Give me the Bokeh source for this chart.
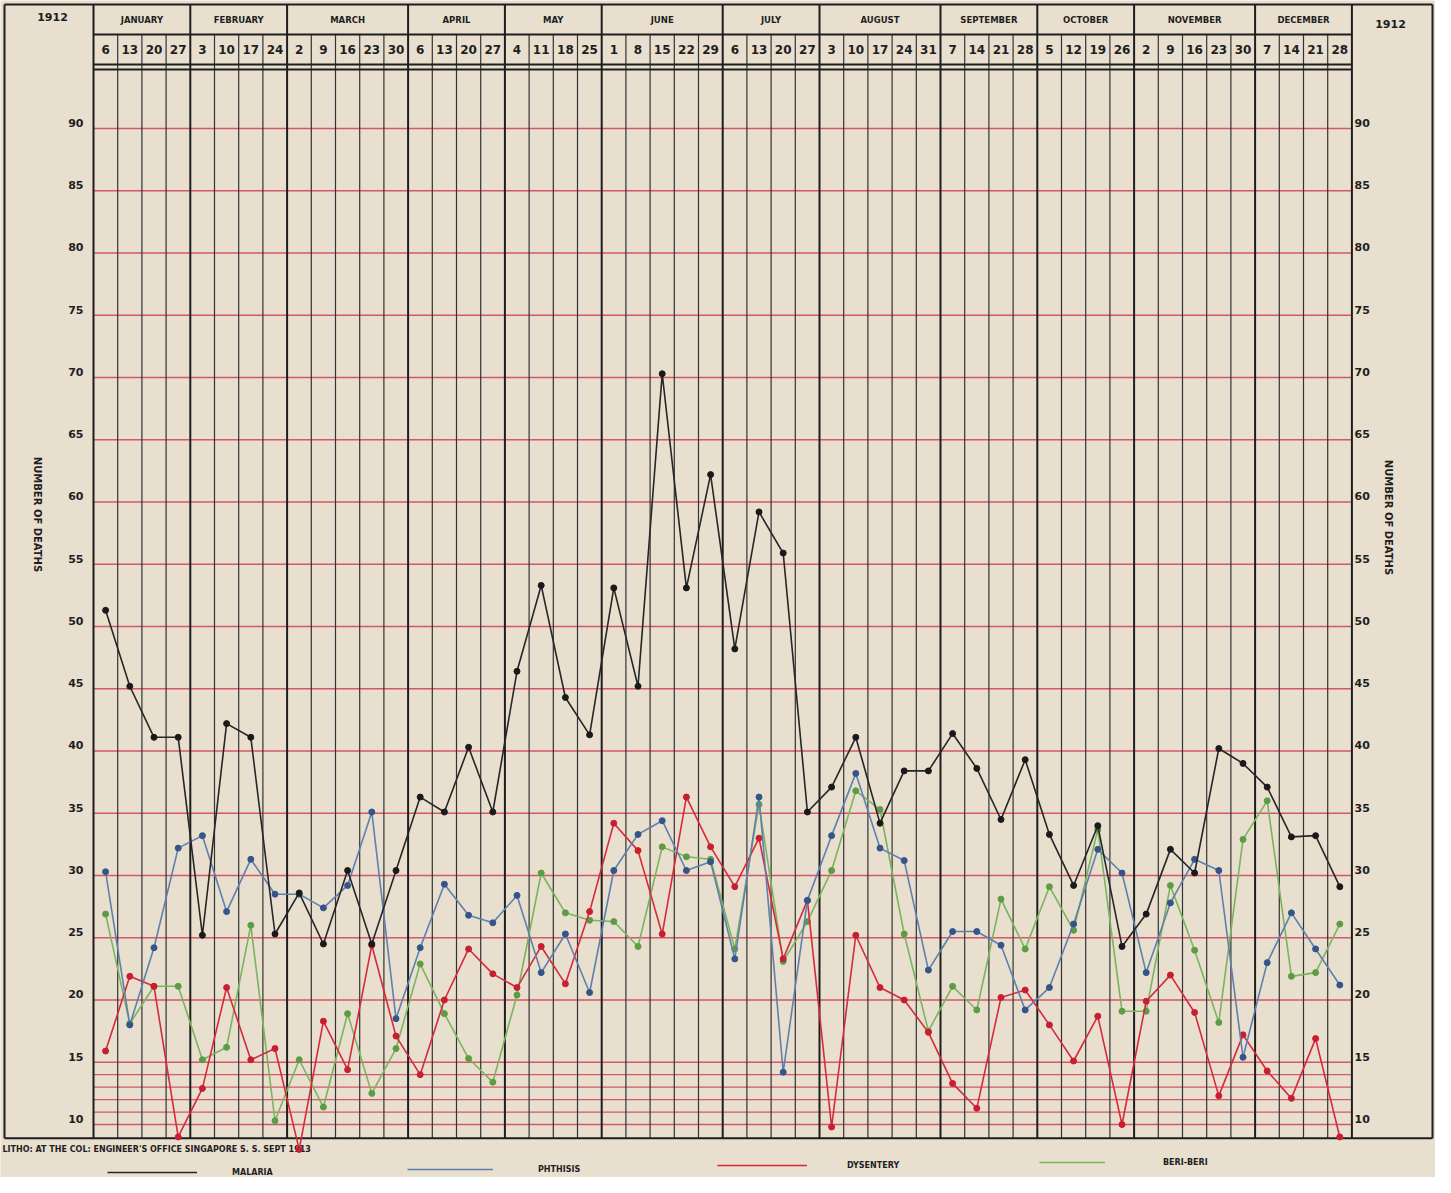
import numpy as np
from bokeh.plotting import figure
from bokeh.models import ColumnDataSource, Range1d, Legend, LegendItem
from bokeh.core.properties import value
from bokeh.embed import file_html
from bokeh.resources import INLINE

# ---------------- data ----------------
YEAR = "1912"
MONTHS = ["JANUARY", "FEBRUARY", "MARCH", "APRIL", "MAY", "JUNE", "JULY",
          "AUGUST", "SEPTEMBER", "OCTOBER", "NOVEMBER", "DECEMBER"]
WEEKS_PER_MONTH = [4, 4, 5, 4, 4, 5, 4, 5, 4, 4, 5, 4]
WEEK_DAYS = [6, 13, 20, 27, 3, 10, 17, 24, 2, 9, 16, 23, 30, 6, 13, 20, 27,
             4, 11, 18, 25, 1, 8, 15, 22, 29, 6, 13, 20, 27, 3, 10, 17, 24, 31,
             7, 14, 21, 28, 5, 12, 19, 26, 2, 9, 16, 23, 30, 7, 14, 21, 28]

MALARIA = [51.3, 45.2, 41.1, 41.1, 25.2, 42.2, 41.1, 25.3, 28.6, 24.5,
           30.4, 24.5, 30.4, 36.3, 35.1, 40.3, 35.1, 46.4, 53.3, 44.3,
           41.3, 53.1, 45.2, 70.3, 53.1, 62.2, 48.2, 59.2, 55.9, 35.1,
           37.1, 41.1, 34.2, 38.4, 38.4, 41.4, 38.6, 34.5, 39.3, 33.3,
           29.2, 34.0, 24.3, 26.9, 32.1, 30.2, 40.2, 39.0, 37.1, 33.1,
           33.2, 29.1]
PHTHISIS = [30.3, 18.0, 24.2, 32.2, 33.2, 27.1, 31.3, 28.5, 28.5, 27.4,
            29.2, 35.1, 18.5, 24.2, 29.3, 26.8, 26.2, 28.4, 22.2, 25.3,
            20.6, 30.4, 33.3, 34.4, 30.4, 31.1, 23.3, 36.3, 14.2, 28.0,
            33.2, 38.2, 32.2, 31.2, 22.4, 25.5, 25.5, 24.4, 19.2, 21.0,
            26.1, 32.1, 30.2, 22.2, 27.8, 31.3, 30.4, 15.4, 23.0, 27.0,
            24.1, 21.2]
DYSENTERY = [15.9, 21.9, 21.1, 9.0, 12.9, 21.0, 15.2, 16.1, 8.0, 18.3,
             14.4, 24.4, 17.1, 14.0, 20.0, 24.1, 22.1, 21.0, 24.3, 21.3,
             27.1, 34.2, 32.0, 25.3, 36.3, 32.3, 29.1, 33.0, 23.3, 28.0,
             9.8, 25.2, 21.0, 20.0, 17.4, 13.3, 11.3, 20.2, 20.8, 18.0,
             15.1, 18.7, 10.0, 19.9, 22.0, 19.0, 12.3, 17.2, 14.3, 12.1,
             16.9, 9.0]
BERI_BERI = [26.9, 18.1, 21.1, 21.1, 15.2, 16.2, 26.0, 10.3, 15.2, 11.4,
             18.9, 12.5, 16.1, 22.9, 18.9, 15.3, 13.4, 20.4, 30.2, 27.0,
             26.4, 26.3, 24.3, 32.3, 31.5, 31.3, 24.1, 35.7, 23.1, 26.3,
             30.4, 36.8, 35.3, 25.3, 17.5, 21.1, 19.2, 28.1, 24.1, 29.1,
             25.6, 33.7, 19.1, 19.1, 29.2, 24.0, 18.2, 32.9, 36.0, 21.9,
             22.2, 26.1]
Y_TICKS = list(range(10, 95, 5))
MINOR_Y_LINES = [11, 12, 13, 14]
AXIS_TITLE = "NUMBER OF DEATHS"
FOOTER = "LITHO: AT THE COL: ENGINEER'S OFFICE SINGAPORE S. S. SEPT 1913"

# ---------------- layout ----------------
W, H = 1435, 1177
PX_LEFT = 101.0       # page x of the first week boundary
PX_WEEK = 24.2        # pixels per week
PY_90 = 136.0         # page y of the 90 line
PX_UNIT = 12.45       # pixels per death


def X(px):
    return (px - PX_LEFT) / PX_WEEK


def Y(py):
    return 90 - (py - PY_90) / PX_UNIT


PAPER = "#e8dfcf"
INK = "#1e1e1e"
GRIDRED = "#d4485c"
FONT_NAME = "DejaVu Sans"
FONT = value(FONT_NAME)

p = figure(width=W, height=H, output_backend="svg", toolbar_location=None,
           x_range=Range1d(X(8), X(8 + W)), y_range=Range1d(Y(8 + H), Y(8)),
           x_axis_location=None, y_axis_location=None, min_border=0,
           background_fill_color=PAPER, border_fill_color=PAPER,
           outline_line_color=None)
p.xgrid.visible = False
p.ygrid.visible = False

n = len(WEEK_DAYS)
grid_bottom = 8.9
grid_top = Y(77)
header_top = Y(12)
month_bottom = Y(42)
day_bottom = Y(72)
box_left = X(12)
box_right = X(1440)

# red horizontal rulings
hl = Y_TICKS + MINOR_Y_LINES
p.segment(x0=[0] * len(hl), x1=[n] * len(hl), y0=hl, y1=hl,
          line_color=GRIDRED, line_width=1.3, line_alpha=0.9)

# week / month vertical rulings
month_edges = [int(v) for v in np.cumsum([0] + WEEKS_PER_MONTH)]
week_edges = [k for k in range(n + 1) if k not in month_edges]
p.segment(x0=week_edges, x1=week_edges, y0=[month_bottom] * len(week_edges),
          y1=[grid_bottom] * len(week_edges), line_color="#333333", line_width=1.2)
p.segment(x0=month_edges, x1=month_edges, y0=[header_top] * len(month_edges),
          y1=[grid_bottom] * len(month_edges), line_color=INK, line_width=2)

# outer box and header rules
p.segment(x0=[box_left, box_left, box_left, box_right, 0, 0, 0],
          x1=[box_right, box_right, box_left, box_right, n, n, n],
          y0=[header_top, grid_bottom, header_top, header_top, month_bottom, day_bottom, grid_top],
          y1=[header_top, grid_bottom, grid_bottom, grid_bottom, month_bottom, day_bottom, grid_top],
          line_color=INK, line_width=2)

# header texts
month_centers = [(month_edges[i] + month_edges[i + 1]) / 2 for i in range(12)]
p.text(x=month_centers, y=[(header_top + month_bottom) / 2] * 12, text=MONTHS,
       text_font=FONT, text_font_style="bold", text_font_size="8.5px",
       text_align="center", text_baseline="middle", text_color=INK)
p.text(x=[i + 0.5 for i in range(n)], y=[(month_bottom + day_bottom) / 2] * n,
       text=[str(d) for d in WEEK_DAYS], text_font=FONT, text_font_style="bold",
       text_font_size="12px", text_align="center", text_baseline="middle",
       text_color=INK)
p.text(x=[X(60), X(1398)], y=[Y(24), Y(31)], text=[YEAR, YEAR], text_font=FONT,
       text_font_style="bold", text_font_size="11px", text_align="center",
       text_baseline="middle", text_color=INK)

# y tick labels (both sides)
p.text(x=[X(91)] * len(Y_TICKS), y=[v + 0.45 for v in Y_TICKS], text=[str(v) for v in Y_TICKS],
       text_font=FONT, text_font_style="bold", text_font_size="11px",
       text_align="right", text_baseline="middle", text_color=INK)
p.text(x=[X(1362)] * len(Y_TICKS), y=[v + 0.45 for v in Y_TICKS], text=[str(v) for v in Y_TICKS],
       text_font=FONT, text_font_style="bold", text_font_size="11px",
       text_align="left", text_baseline="middle", text_color=INK)
p.text(x=[X(45), X(1396)], y=[Y(522), Y(525)], text=[AXIS_TITLE, AXIS_TITLE],
       angle=-np.pi / 2, text_font=FONT, text_font_style="bold", text_font_size="10px",
       text_align="center", text_baseline="middle", text_color=INK)
p.text(x=[X(10)], y=[Y(1157)], text=[FOOTER], text_font=FONT, text_font_style="bold",
       text_font_size="8px", text_align="left", text_baseline="middle", text_color=INK)

# ---------------- series ----------------
src = ColumnDataSource(dict(x=[i + 0.5 for i in range(n)], day=WEEK_DAYS,
                            malaria=MALARIA, phthisis=PHTHISIS,
                            dysentery=DYSENTERY, beri=BERI_BERI))
series = [("beri", "BERI-BERI", "#7ab55e", "#5c9c45"),
          ("dysentery", "DYSENTERY", "#d62a3c", "#c81e32"),
          ("phthisis", "PHTHISIS", "#5e80ad", "#34558a"),
          ("malaria", "MALARIA", "#262626", "#1a1a1a")]
lines = {}
for col, name, lc, mc in series:
    r = p.line("x", col, source=src, line_color=lc, line_width=1.6)
    p.scatter("x", col, source=src, size=6, fill_color=mc, line_color=mc)
    lines[name] = r

# legend row below the chart (one legend per item to place them freely)
leg_spec = [("MALARIA", 107, 0, 90, 35),
            ("PHTHISIS", 407, 3, 86, 45),
            ("DYSENTERY", 717, 7, 90, 40),
            ("BERI-BERI", 1039, 10, 66, 58)]
for name, lx, ly, gw, so in leg_spec:
    leg = Legend(items=[LegendItem(label=name, renderers=[lines[name]])], location=(lx, ly),
                 orientation="horizontal", glyph_width=gw, glyph_height=10,
                 label_height=10, label_standoff=so, padding=0, margin=0,
                 border_line_color=None, background_fill_alpha=0,
                 label_text_font=FONT_NAME, label_text_font_style="bold",
                 label_text_font_size="8px", label_text_color=INK)
    p.add_layout(leg)

open("out.html", "w").write(file_html(p, INLINE))
